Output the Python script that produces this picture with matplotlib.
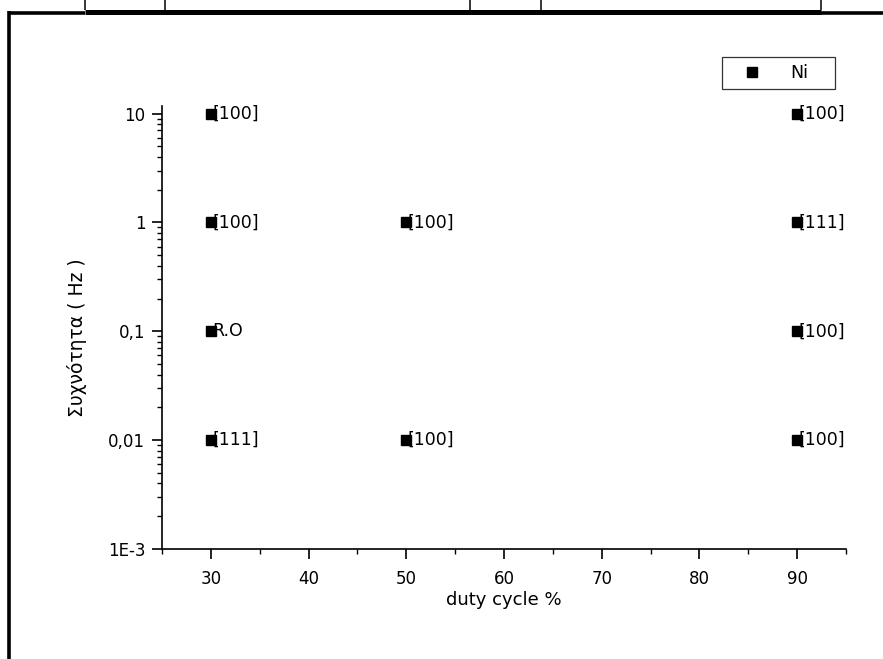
import matplotlib
matplotlib.use("Agg")
import matplotlib.pyplot as plt
import numpy as np
from matplotlib.lines import Line2D
from matplotlib.ticker import FixedLocator, FixedFormatter, LogLocator, MultipleLocator

plt.rcParams['font.family'] = ['DejaVu Sans']

# data
duty = [30, 30, 30, 30, 50, 50, 90, 90, 90, 90]
freq = [10, 1, 0.1, 0.01, 1, 0.01, 10, 1, 0.1, 0.01]
labels = ['[100]', '[100]', 'R.O', '[111]', '[100]', '[100]',
          '[100]', '[111]', '[100]', '[100]']
ytick_vals = [1e-3, 1e-2, 1e-1, 1, 10]
ytick_text = ['1E-3', '0,01', '0,1', '1', '10']
xtick_vals = [30, 40, 50, 60, 70, 80, 90]

W, H = 883, 659
fig = plt.figure(figsize=(W / 100, H / 100), dpi=100)
ax = fig.add_axes([162 / W, 1 - 549 / H, (846 - 162) / W, (549 - 106) / H])

ax.plot(duty, freq, 's', color='black', markersize=7, linestyle='none', label='Ni')
for x, y, t in zip(duty, freq, labels):
    ax.annotate(t, (x, y), xytext=(1.2, 0), textcoords='offset points',
                ha='left', va='center', fontsize=12.5)

ax.set_yscale('log')
ax.set_xlim(25, 95)
ax.set_ylim(1e-3, 10 ** 1.07)

ax.xaxis.set_major_locator(FixedLocator(xtick_vals))
ax.xaxis.set_minor_locator(MultipleLocator(5))
ax.yaxis.set_major_locator(FixedLocator(ytick_vals))
ax.yaxis.set_major_formatter(FixedFormatter(ytick_text))
ax.yaxis.set_minor_locator(LogLocator(base=10, subs=np.arange(2, 10)))
ax.yaxis.set_minor_formatter(FixedFormatter([]))

for s in ['top', 'right']:
    ax.spines[s].set_visible(False)
for s in ['left', 'bottom']:
    ax.spines[s].set_linewidth(1.2)

ax.tick_params(which='major', direction='out', length=7, width=1.2, labelsize=12, pad=5)
ax.tick_params(axis='x', which='major', pad=8)
ax.tick_params(which='minor', direction='out', length=3.5, width=1.0)

ax.set_xlabel('duty cycle %', fontsize=13, labelpad=2)
ax.set_ylabel('Συχνότητα ( Hz )', fontsize=13.5)
ax.yaxis.set_label_coords(-0.11, 0.476)

leg = ax.legend(loc='upper left', bbox_to_anchor=(722 / W, 1 - 90 / H, 113 / W, 33 / H),
                bbox_transform=fig.transFigure, mode='expand', frameon=True,
                fancybox=False, fontsize=12.5, handletextpad=0.86, borderpad=0.4,
                handlelength=2.65, borderaxespad=0)
leg.get_frame().set_edgecolor('black')
leg.get_frame().set_linewidth(0.9)

# page frame lines
def fig_line(x0, y0, x1, y1, lw):
    fig.add_artist(Line2D([x0 / W, x1 / W], [1 - y0 / H, 1 - y1 / H],
                          color='black', linewidth=lw, solid_capstyle='butt'))

fig_line(8, 12.5, 85, 12.5, 2.6)
fig_line(85, 11.5, 821, 11.5, 3.6)
fig_line(821, 12.5, 883, 12.5, 2.6)
fig_line(8.5, 11, 8.5, 659, 2.6)
for vx in [85, 165, 470, 541, 821]:
    fig_line(vx, 0, vx, 10, 1.1)

fig.savefig('out.png', dpi=100)
